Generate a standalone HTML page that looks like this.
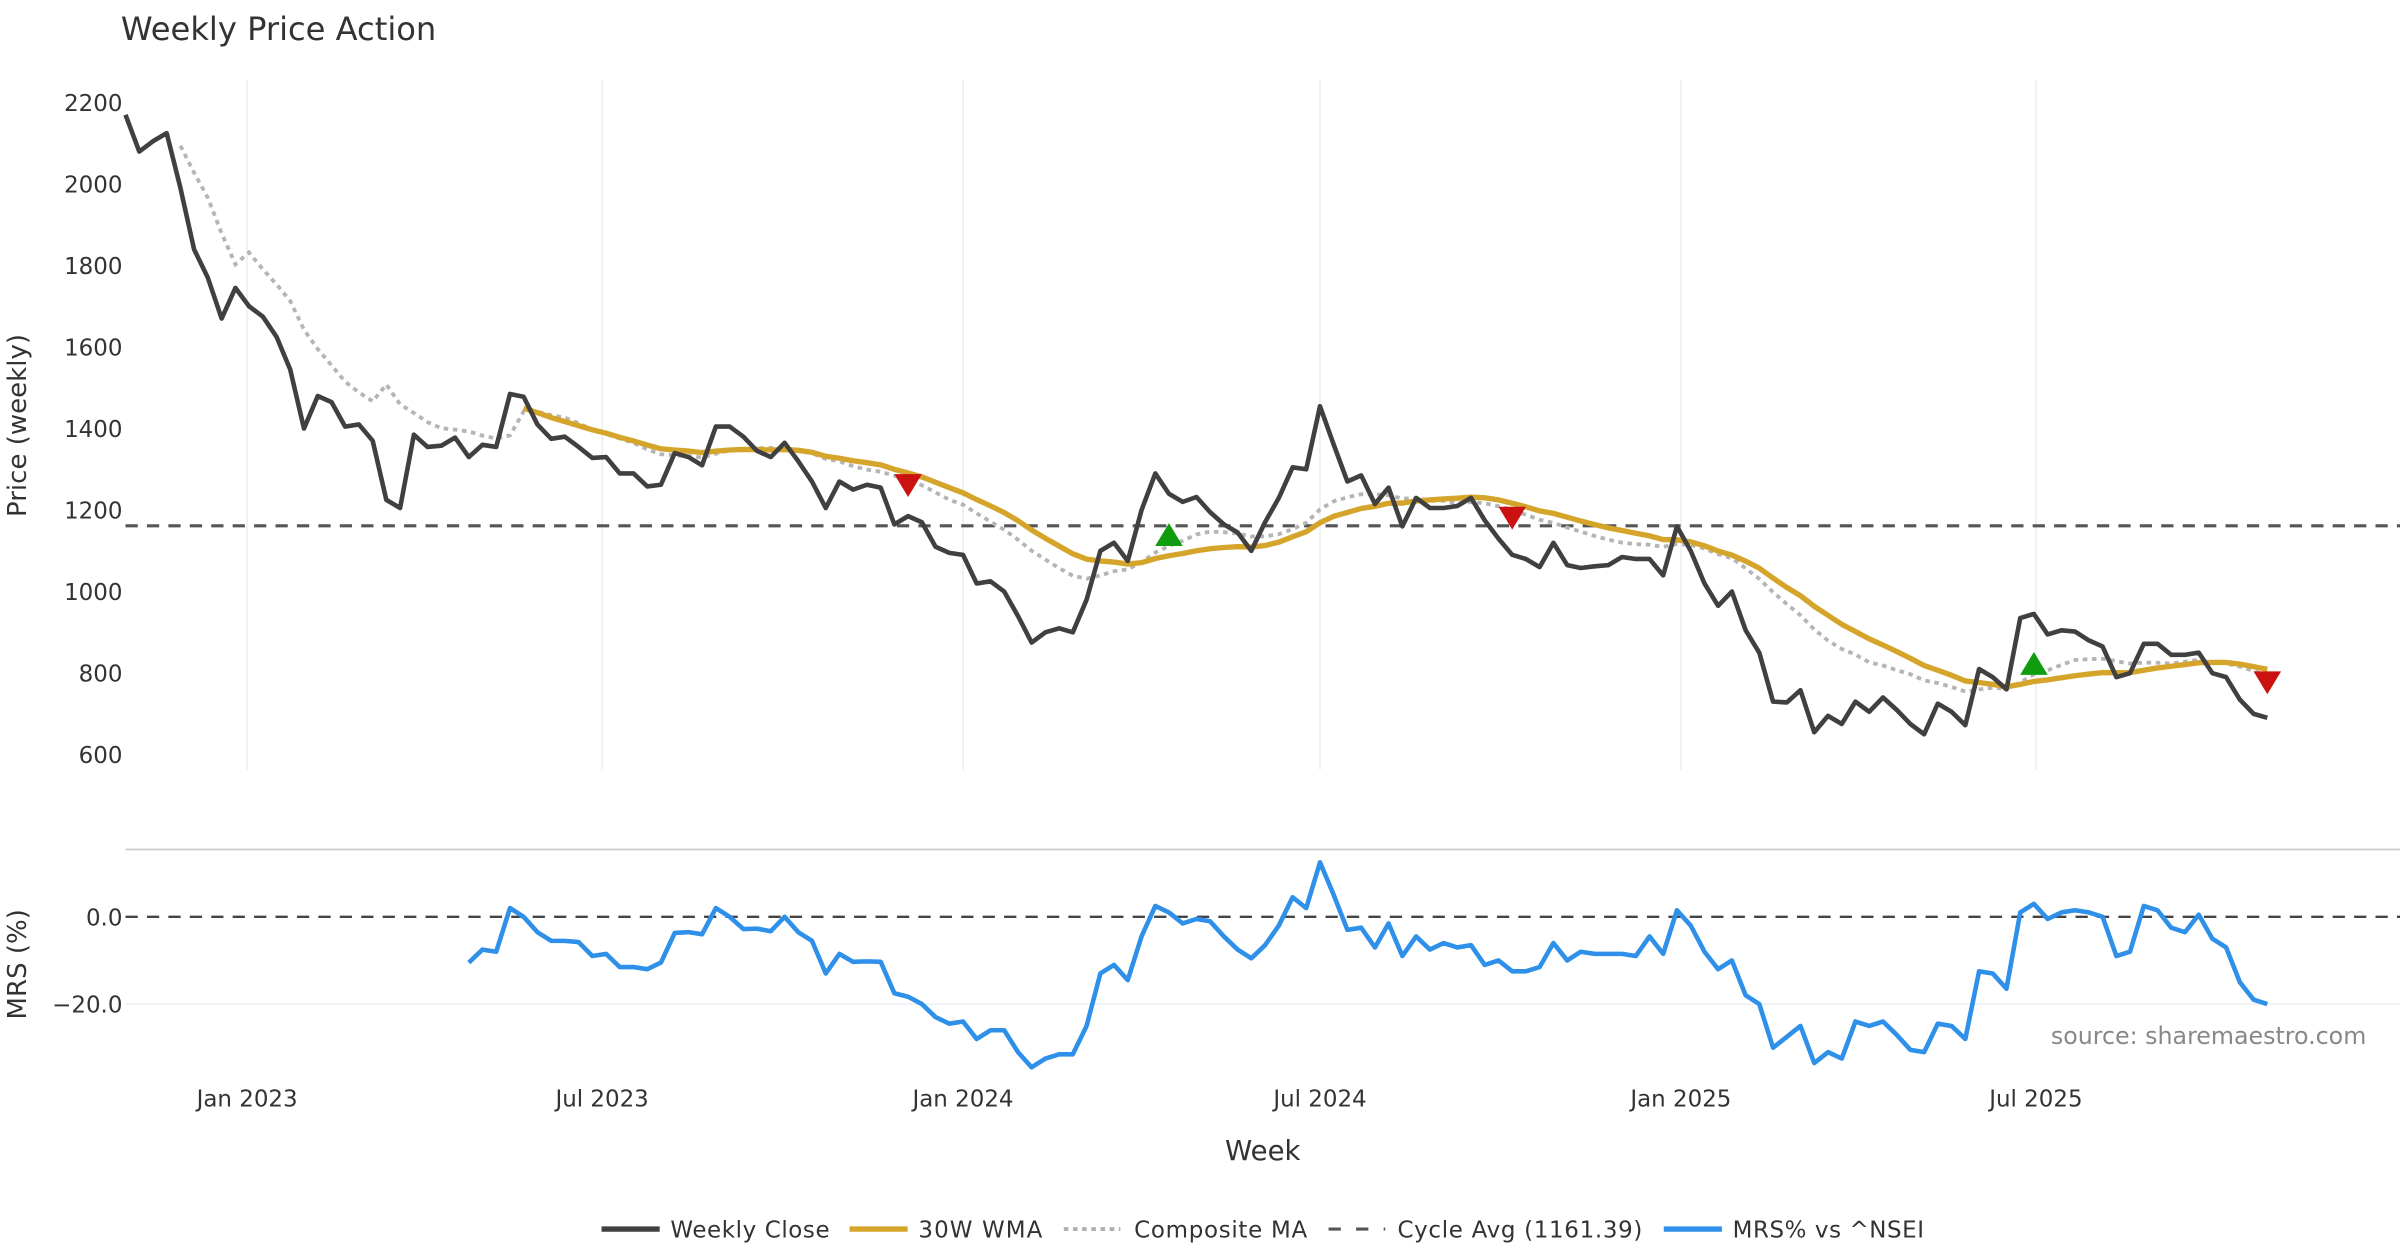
<!DOCTYPE html>
<html><head><meta charset="utf-8"><style>
html,body{margin:0;padding:0;background:#fff;}
svg{display:block;font-family:"DejaVu Sans","Liberation Sans",sans-serif;}
</style></head><body>
<svg id="chart" width="2400" height="1260" viewBox="0 0 1568 823.2" xmlns="http://www.w3.org/2000/svg">
<text x="79" y="26" font-size="21" fill="#333">Weekly Price Action</text>
<g id="grid"></g>
<g id="price"></g>
<g id="mrs"></g>
<g id="axes"></g>
<text transform="translate(17,278) rotate(-90)" text-anchor="middle" font-size="17" fill="#333">Price (weekly)</text>
<text transform="translate(17,630) rotate(-90)" text-anchor="middle" font-size="17" fill="#333">MRS (%)</text>
<text x="825" y="758" text-anchor="middle" font-size="18" fill="#333">Week</text>
<text x="1546" y="682" text-anchor="end" font-size="15.5" fill="#888">source: sharemaestro.com</text>
<g font-size="15" fill="#333">
<g><line x1="393" y1="803" x2="431" y2="803" stroke="#404040" stroke-width="3.5"/><text x="438" y="808.5" textLength="104">Weekly Close</text></g>
<g><line x1="555" y1="803" x2="593" y2="803" stroke="#D4A52A" stroke-width="3.5"/><text x="600" y="808.5" textLength="81">30W WMA</text></g>
<g><line x1="695" y1="803" x2="732" y2="803" stroke="#b0b0b0" stroke-width="2.5" stroke-dasharray="3,3"/><text x="741" y="808.5" textLength="113">Composite MA</text></g>
<g><line x1="868" y1="803" x2="905" y2="803" stroke="#555" stroke-width="2" stroke-dasharray="8,10"/><text x="913" y="808.5" textLength="160">Cycle Avg (1161.39)</text></g>
<g><line x1="1087" y1="803" x2="1125" y2="803" stroke="#2E90E8" stroke-width="3.5"/><text x="1132" y="808.5" textLength="125">MRS% vs ^NSEI</text></g>
</g>
</svg>
<script>
const closes = [2170,2080,2105,2125,1990,1840,1770,1670,1745,1700,1675,1625,1545,1400,1480,1465,1405,1410,1370,1225,1205,1385,1355,1358,1378,1330,1360,1355,1485,1478,1410,1375,1380,1355,1328,1330,1290,1290,1258,1262,1340,1330,1310,1405,1405,1380,1345,1330,1365,1320,1270,1205,1270,1250,1262,1255,1165,1185,1170,1110,1095,1090,1020,1025,1000,940,875,900,910,900,980,1100,1120,1075,1200,1290,1240,1220,1232,1195,1165,1145,1100,1170,1230,1305,1300,1455,1360,1270,1285,1215,1255,1160,1230,1205,1205,1210,1230,1175,1130,1090,1080,1060,1120,1065,1058,1062,1065,1085,1080,1080,1040,1160,1100,1020,965,1000,905,850,730,728,758,655,695,675,730,705,740,710,675,650,725,705,672,810,790,760,935,945,895,905,902,880,865,790,800,872,872,845,845,850,800,790,735,700,690];
const mrsValues = [-10.5,-7.5,-8,2,0,-3.5,-5.5,-5.5,-5.8,-9,-8.5,-11.5,-11.5,-12,-10.5,-3.7,-3.5,-4,2,0,-2.8,-2.7,-3.3,0,-3.5,-5.5,-13,-8.5,-10.3,-10.2,-10.3,-17.5,-18.3,-20,-23,-24.5,-24,-28,-26,-26,-31,-34.5,-32.5,-31.5,-31.5,-25,-13,-11,-14.5,-4.5,2.5,1,-1.5,-0.5,-1,-4.5,-7.5,-9.5,-6.5,-2,4.5,2,12.5,5,-3,-2.5,-7,-1.5,-9,-4.5,-7.5,-6,-7,-6.5,-11,-10,-12.5,-12.5,-11.5,-6,-10,-8,-8.5,-8.5,-8.5,-9,-4.5,-8.5,1.5,-2,-8,-12,-10,-18,-20,-30,-27.5,-25,-33.5,-31,-32.5,-24,-25,-24,-27,-30.5,-31,-24.5,-25,-28,-12.5,-13,-16.5,1,3,-0.5,1,1.5,1,0,-9,-8,2.5,1.5,-2.5,-3.5,0.5,-5,-7,-15,-19,-20];
const cycleAvg = 1161.39;
const signalIdx = [57,76,101,139,156];
const signalPrice = [1262,1138,1182,822,778];
const signalType = ["sell","buy","sell","buy","sell"];
const priceTicks = [600,800,1000,1200,1400,1600,1800,2000,2200];
const mrsTicks = [0,-20];
const mrsTickLabels = ["0.0","\u221220.0"];
const monthTicks = ["2023-01-01","2023-07-01","2024-01-01","2024-07-01","2025-01-01","2025-07-01"];
const monthLabels = ["Jan 2023","Jul 2023","Jan 2024","Jul 2024","Jan 2025","Jul 2025"];
const startDate = "2022-10-31";

const NS="http://www.w3.org/2000/svg";
const X0=82, WK=8.97;
const xIdx=i=>X0+i*WK;
const xDate=d=>X0+((new Date(d)-new Date(startDate))/864e5/7)*WK;
const yP=v=>493-(v-600)*0.26625;
const yM=v=>599-v*2.85;
function mk(tag,parent){const e=document.createElementNS(NS,tag);document.getElementById(parent).appendChild(e);return e;}
function pts(arr,off,yf){return arr.map((v,k)=>v==null?null:xIdx(k+off).toFixed(1)+","+yf(v).toFixed(1)).filter(s=>s).join(" ");}

monthTicks.forEach((d,k)=>{
  const x=xDate(d);
  const g=mk("line","grid");
  
  
  g.setAttribute("x1",x);g.setAttribute("x2",x);g.setAttribute("y1",52);g.setAttribute("y2",503);
  g.setAttribute("stroke","#eceff3");g.setAttribute("stroke-width","1");
  const t=mk("text","axes");
  
  
  t.setAttribute("x",x);t.setAttribute("y",723);t.setAttribute("text-anchor","middle");t.setAttribute("font-size","15");t.setAttribute("fill","#333");
  t.textContent=monthLabels[k];
});
priceTicks.forEach(v=>{
  const t=mk("text","axes");
  
  
  t.setAttribute("x",80);t.setAttribute("y",yP(v)+5.5);t.setAttribute("text-anchor","end");t.setAttribute("font-size","15");t.setAttribute("fill","#333");
  t.textContent=v;
});
mrsTicks.forEach((v,k)=>{
  const t=mk("text","axes");
  
  
  t.setAttribute("x",80);t.setAttribute("y",yM(v)+5.5);t.setAttribute("text-anchor","end");t.setAttribute("font-size","15");t.setAttribute("fill","#333");
  t.textContent=mrsTickLabels[k];
  if(v!==0){
    const g=mk("line","grid");
    
    
    g.setAttribute("x1",82);g.setAttribute("x2",1568);g.setAttribute("y1",yM(v));g.setAttribute("y2",yM(v));
    g.setAttribute("stroke","#eceff3");
  }
});
const sep=mk("line","grid");


sep.setAttribute("x1",82);sep.setAttribute("x2",1568);sep.setAttribute("y1",555);sep.setAttribute("y2",555);sep.setAttribute("stroke","#ccc");sep.setAttribute("stroke-width","1.2");

const wma=closes.map((v,i)=>{if(i<29)return null;let s=0,w=0;for(let k=0;k<30;k++){s+=closes[i-k]*(30-k);w+=30-k;}return s/w;});
function sma(i,n){const a=Math.max(0,i-n+1);let s=0;for(let k=a;k<=i;k++)s+=closes[k];return s/(i-a+1);}
const comp=closes.map((v,i)=>{if(i<4)return null;const l=[sma(i,5)];if(i>=9)l.push(sma(i,10));if(i>=19)l.push(sma(i,20));if(i>=29)l.push(sma(i,30));return l.reduce((a,b)=>a+b)/l.length;});

const cy=mk("line","price");


cy.setAttribute("x1",82);cy.setAttribute("x2",1568);cy.setAttribute("y1",yP(cycleAvg));cy.setAttribute("y2",yP(cycleAvg));
cy.setAttribute("stroke","#555");cy.setAttribute("stroke-width","2");cy.setAttribute("stroke-dasharray","8,6");

const cl=mk("polyline","price");


cl.setAttribute("points",pts(comp,0,yP));cl.setAttribute("fill","none");cl.setAttribute("stroke","#b5b5b5");cl.setAttribute("stroke-width","2.5");cl.setAttribute("stroke-dasharray","3,3");

const wl=mk("polyline","price");


wl.setAttribute("points",pts(wma,0,yP));wl.setAttribute("fill","none");wl.setAttribute("stroke","#D4A52A");wl.setAttribute("stroke-width","3.5");

const pl=mk("polyline","price");


pl.setAttribute("points",pts(closes,0,yP));pl.setAttribute("fill","none");pl.setAttribute("stroke","#404040");pl.setAttribute("stroke-width","3");pl.setAttribute("stroke-linejoin","round");

signalIdx.forEach((i,k)=>{
  const x=xIdx(i),y=yP(signalPrice[k]);
  const t=mk("polygon","price");
  
  
  if(signalType[k]==="buy"){t.setAttribute("points",`${x-9},${y+7} ${x+9},${y+7} ${x},${y-8}`);t.setAttribute("fill","#0f9d0f");}
  else{t.setAttribute("points",`${x-9},${y-7} ${x+9},${y-7} ${x},${y+8}`);t.setAttribute("fill","#cc1111");}
});

const z=mk("line","mrs");


z.setAttribute("x1",82);z.setAttribute("x2",1568);z.setAttribute("y1",yM(0));z.setAttribute("y2",yM(0));z.setAttribute("stroke","#444");z.setAttribute("stroke-width","1.6");z.setAttribute("stroke-dasharray","8,6");
const ml=mk("polyline","mrs");


ml.setAttribute("points",pts(mrsValues,closes.length-mrsValues.length,yM));ml.setAttribute("fill","none");ml.setAttribute("stroke","#2E90E8");ml.setAttribute("stroke-width","3");ml.setAttribute("stroke-linejoin","round");
</script>
</body></html>
